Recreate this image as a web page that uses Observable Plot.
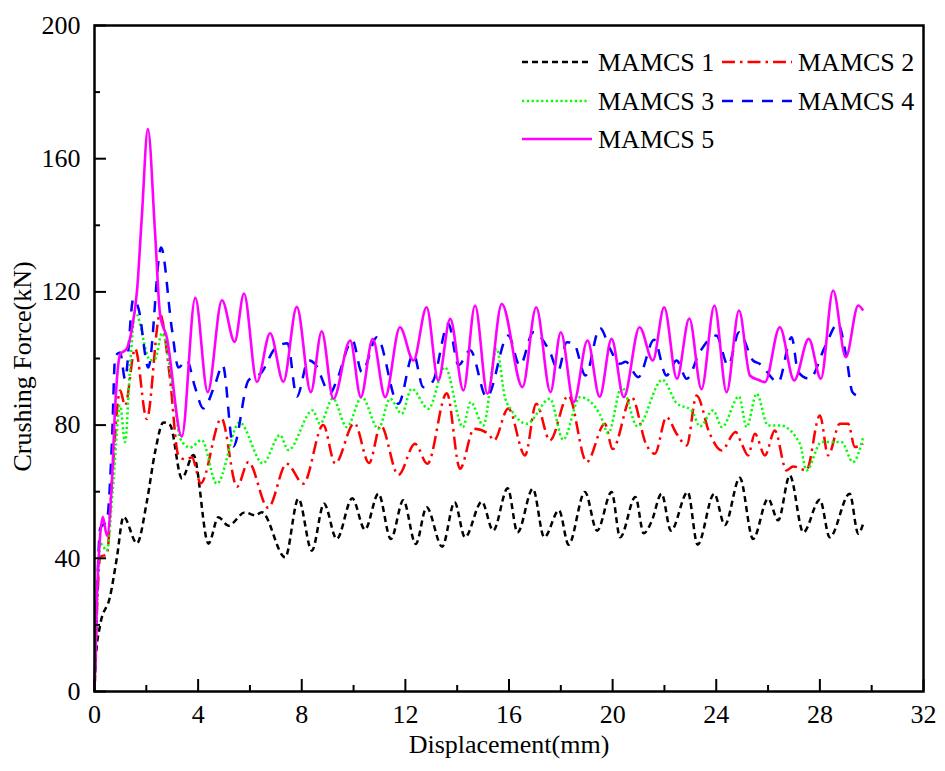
<!DOCTYPE html>
<html>
<head>
<meta charset="utf-8">
<script src="https://cdn.jsdelivr.net/npm/d3@7"></script>
<script src="https://cdn.jsdelivr.net/npm/@observablehq/plot@0.6"></script>
<style>
  body { margin: 0; background: #fff; }
  #chart { position: relative; width: 945px; height: 771px; }
</style>
</head>
<body>
<div id="chart"></div>
<script>
// Crushing force vs displacement for the five MAMCS specimens (peaks and troughs of each record)
const disp1 = [0, 0.05, 0.22, 0.6, 0.86, 1.12, 1.64, 2.02, 2.34, 2.66, 2.92, 3.37, 3.82, 4.4, 4.78, 5.17, 5.81, 6.2, 6.46, 7.36, 7.87, 8.39, 8.86, 9.35, 9.95, 10.44, 10.96, 11.44, 11.92, 12.4, 12.82, 13.42, 13.9, 14.3, 14.95, 15.39, 15.95, 16.33, 16.92, 17.36, 17.93, 18.3, 18.93, 19.4, 19.96, 20.29, 20.88, 21.2, 21.5, 21.89, 22.25, 22.9, 23.28, 23.92, 24.33, 24.91, 25.42, 26.0, 26.39, 26.84, 27.36, 28.0, 28.38, 29.15, 29.48, 29.67];
const force1 = [0, 10, 20, 28.5, 40, 52.5, 44.5, 57, 72, 80.8, 80, 64, 71, 44.4, 52.3, 49.8, 53.8, 52.9, 53.8, 40.3, 57.9, 42.3, 56.4, 45.8, 58, 48.6, 59.4, 45.8, 57.4, 44.3, 55.3, 43.5, 56.8, 46.3, 57, 48.3, 61, 47.8, 60.9, 46.3, 54.4, 44.1, 59.9, 48.3, 59.9, 46.3, 58.4, 47.5, 51, 59.4, 48.3, 59.9, 44.1, 59.4, 50, 64.2, 45.8, 57.9, 51.4, 64.9, 47.8, 57.6, 46.3, 59.4, 47.4, 50.4];

const disp2 = [0, 0.1, 0.22, 0.48, 0.67, 0.99, 1.18, 1.57, 2.02, 2.53, 2.9, 3.24, 3.5, 3.76, 4.1, 4.9, 5.5, 5.94, 6.7, 7.42, 8.06, 8.83, 9.29, 10.03, 10.6, 11.05, 11.73, 12.37, 12.85, 13.6, 14.11, 14.65, 15.2, 15.42, 15.97, 16.62, 17.05, 17.58, 18.29, 19.0, 19.7, 20.0, 20.73, 21.31, 21.63, 22.08, 22.47, 22.86, 23.24, 23.75, 24.2, 24.75, 24.98, 25.23, 25.49, 25.88, 26.26, 26.71, 26.97, 27.48, 28.0, 28.32, 28.77, 29.09, 29.35, 29.67];
const force2 = [0, 25, 40.5, 41.1, 62.8, 90.4, 85.9, 103, 81.8, 113.3, 95, 70.9, 69.7, 70.3, 62.5, 82, 61.5, 68.9, 55.2, 68.4, 62.4, 80, 68.5, 80.6, 68.6, 79.9, 65, 74.4, 68.4, 89.6, 66.9, 78.9, 77.4, 75.4, 85, 70.9, 86.4, 75.4, 88.9, 68.9, 80.4, 72.8, 88.4, 73.9, 71.4, 82.4, 77.4, 73.9, 88.9, 77.4, 72.4, 77.9, 74.4, 70.9, 77.4, 70.9, 78.4, 66.4, 67.6, 66.4, 82.9, 70.9, 80.4, 80.4, 73.4, 74.4];

const disp3 = [0, 0.1, 0.22, 0.48, 0.7, 0.99, 1.18, 1.38, 1.57, 2.15, 2.35, 2.6, 3.11, 3.3, 3.69, 4.14, 4.72, 5.6, 6.5, 7.16, 7.48, 8.42, 8.7, 9.2, 9.74, 10.32, 10.96, 11.41, 11.86, 12.24, 12.89, 13.53, 14.22, 14.52, 15.01, 15.52, 15.84, 16.1, 16.68, 17.58, 18.09, 18.74, 19.5, 19.83, 20.35, 20.96, 21.92, 22.47, 23.05, 23.37, 23.88, 24.22, 24.88, 25.17, 25.56, 26.0, 26.46, 27.23, 27.48, 28.06, 28.83, 29.28, 29.67];
const force3 = [0, 25, 44.5, 42.3, 60, 85.9, 74.9, 98.5, 113.9, 99.5, 100, 107.6, 85.9, 76, 73.3, 75.5, 62.4, 80.8, 68.5, 77, 72.5, 84.4, 80.4, 88, 79.4, 88.4, 78.9, 87.9, 83.4, 90.9, 84.9, 97.4, 79.4, 86.9, 79.9, 102.9, 88.4, 84.4, 80.4, 87.9, 75.6, 88.4, 83.4, 77.6, 91.4, 79.6, 93.6, 86.6, 84.4, 79.6, 84.4, 79.4, 88.6, 79.4, 89.4, 79.9, 79.9, 74.4, 66.4, 74.9, 74.9, 68.9, 76.4];

const disp4 = [0, 0.1, 0.22, 0.48, 0.67, 0.8, 0.99, 1.18, 1.5, 1.7, 2.08, 2.57, 2.99, 3.24, 3.56, 3.88, 4.2, 4.66, 4.95, 5.36, 5.94, 6.46, 6.97, 7.45, 7.81, 8.26, 8.5, 9.1, 9.35, 9.96, 10.32, 10.9, 11.73, 12.31, 12.69, 13.05, 13.66, 14.05, 14.5, 15.14, 15.97, 16.42, 16.94, 17.58, 17.9, 18.23, 18.5, 18.95, 19.51, 19.9, 20.28, 20.5, 20.99, 21.6, 22.08, 22.47, 22.86, 23.37, 24.0, 24.46, 24.88, 25.42, 25.68, 26.39, 26.91, 27.16, 27.6, 28.19, 28.7, 29.03, 29.25, 29.4];
const force4 = [0, 30, 49, 51.4, 74.3, 100.7, 101.8, 93.8, 117.9, 115, 97.3, 133.3, 108.7, 97.3, 99.5, 91.4, 85, 92.4, 98, 73.6, 93.4, 95.9, 103, 104.6, 88.5, 99.5, 98.5, 89.6, 93.4, 105.4, 95.9, 106.4, 86.4, 101.4, 91.4, 93, 110.4, 98, 102.5, 88.4, 106.9, 97.9, 107.9, 101.9, 96.4, 104.9, 104.5, 94.9, 109.2, 102.9, 98.4, 99, 94.4, 105.6, 94.9, 99.4, 93.9, 102, 106.9, 97.9, 107.9, 99.4, 98.4, 92.9, 106.4, 96, 93.9, 103.4, 110.4, 100, 90, 89];

const disp5 = [0, 0.1, 0.2, 0.32, 0.48, 0.67, 0.8, 0.99, 1.25, 1.44, 1.64, 1.83, 2.06, 2.34, 2.53, 2.79, 3.37, 3.89, 4.37, 4.92, 5.41, 5.77, 6.27, 6.78, 7.29, 7.81, 8.35, 8.77, 9.22, 9.87, 10.28, 10.74, 11.22, 11.79, 12.31, 12.82, 13.27, 13.73, 14.24, 14.69, 15.17, 15.72, 16.52, 17.05, 17.6, 18.0, 18.5, 19.03, 19.5, 19.96, 20.43, 21.04, 21.55, 21.99, 22.48, 22.96, 23.43, 23.93, 24.4, 24.88, 25.3, 25.62, 25.88, 26.45, 27.01, 27.57, 28.04, 28.51, 29.0, 29.48, 29.67];
const force5 = [0, 30, 45, 52.5, 46.8, 62.8, 85.9, 101.2, 103, 108.7, 120.2, 143, 168.9, 137.4, 113.3, 106.4, 76.6, 118.2, 89.9, 117.5, 105, 119.5, 93, 107.6, 93, 115.5, 89.9, 108.2, 87.9, 105.4, 88.4, 105.9, 88.4, 109.4, 99.4, 115.4, 93.4, 111.9, 90.4, 115.9, 89.4, 116.4, 91.4, 115.4, 89.9, 107.9, 86.9, 105.4, 88.5, 105.9, 88.4, 109.4, 99.4, 115.4, 93.9, 112, 90.8, 115.9, 89.9, 114.4, 94.9, 93.6, 92.9, 109.4, 93.4, 105.9, 93.9, 120.4, 100.4, 115.9, 114.4];

const seriesNames = ["MAMCS 1", "MAMCS 2", "MAMCS 3", "MAMCS 4", "MAMCS 5"];
const xMajorTicks = [0, 4, 8, 12, 16, 20, 24, 28, 32];
const xMinorTicks = [2, 6, 10, 14, 18, 22, 26, 30];
const yMajorTicks = [0, 40, 80, 120, 160, 200];
const yMinorTicks = [20, 60, 100, 140, 180];
const xTitle = "Displacement(mm)";
const yTitle = "Crushing Force(kN)";

// Line styles per specimen
const styles = [
  {stroke: "#000000", strokeWidth: 2.5, strokeDasharray: "6,4"},
  {stroke: "#ff0000", strokeWidth: 2.5, strokeDasharray: "13,5,2.5,5"},
  {stroke: "#00ff00", strokeWidth: 2.5, strokeDasharray: "2.2,2.6"},
  {stroke: "#0000ff", strokeWidth: 2.5, strokeDasharray: "11,9"},
  {stroke: "#ff00ff", strokeWidth: 2.6, strokeDasharray: null}
];

const xs = [disp1, disp2, disp3, disp4, disp5];
const ys = [force1, force2, force3, force4, force5];
const rows = seriesNames.map((name, k) => xs[k].map((d, i) => ({name, mm: d, kN: ys[k][i]})));

const FONT = "'Liberation Serif', 'Times New Roman', serif";

const chart = Plot.plot({
  width: 945,
  height: 771,
  marginLeft: 94,
  marginRight: 22,
  marginTop: 25,
  marginBottom: 80,
  style: {fontFamily: FONT, fontSize: "26px", color: "black", background: "white"},
  x: {domain: [0, 32], axis: null},
  y: {domain: [0, 200], axis: null},
  marks: [
    ...rows.map((data, k) => Plot.line(data, {
      x: "mm", y: "kN", curve: "monotone-x",
      strokeLinecap: "butt", strokeLinejoin: "round",
      ...Object.fromEntries(Object.entries(styles[k]).filter(([, v]) => v != null))
    })),
    Plot.frame({stroke: "black", strokeWidth: 2.5}),
    Plot.axisX(xMajorTicks, {tickSize: -12, tickFormat: () => "", strokeWidth: 2, label: null}),
    Plot.axisX(xMinorTicks, {tickSize: -6, tickFormat: () => "", strokeWidth: 2, label: null}),
    Plot.axisX(xMajorTicks, {tickSize: 0, tickPadding: 13, fontSize: 26, label: null}),
    Plot.axisY(yMajorTicks, {tickSize: -12, tickFormat: () => "", strokeWidth: 2, label: null}),
    Plot.axisY(yMinorTicks, {tickSize: -6, tickFormat: () => "", strokeWidth: 2, label: null}),
    Plot.axisY(yMajorTicks, {tickSize: 0, tickPadding: 14, fontSize: 26, label: null}),
    Plot.text([xTitle], {frameAnchor: "bottom", textAnchor: "middle", dy: 61, fontSize: 26, fill: "black"}),
    Plot.text([yTitle], {frameAnchor: "left", textAnchor: "middle", dx: -72, dy: 8, rotate: -90, fontSize: 26, fill: "black"})
  ]
});

document.getElementById("chart").appendChild(chart);

// Legend in the upper right, two columns
const legendSlots = [
  {x1: 522, x2: 589, tx: 598, y: 62},
  {x1: 722, x2: 792, tx: 798, y: 62},
  {x1: 522, x2: 589, tx: 598, y: 101},
  {x1: 722, x2: 792, tx: 798, y: 101},
  {x1: 522, x2: 592, tx: 598, y: 139}
];
const lg = d3.select(chart).append("g")
  .attr("font-family", FONT).attr("font-size", 26).attr("text-anchor", "start");
seriesNames.forEach((name, k) => {
  const s = legendSlots[k];
  const st = styles[k];
  lg.append("line")
    .attr("x1", s.x1).attr("x2", s.x2).attr("y1", s.y).attr("y2", s.y)
    .attr("stroke", st.stroke).attr("stroke-width", st.strokeWidth)
    .attr("stroke-dasharray", st.strokeDasharray);
  lg.append("text")
    .attr("x", s.tx).attr("y", s.y).attr("dy", "0.35em")
    .attr("fill", "black").text(name);
});
</script>
</body>
</html>
